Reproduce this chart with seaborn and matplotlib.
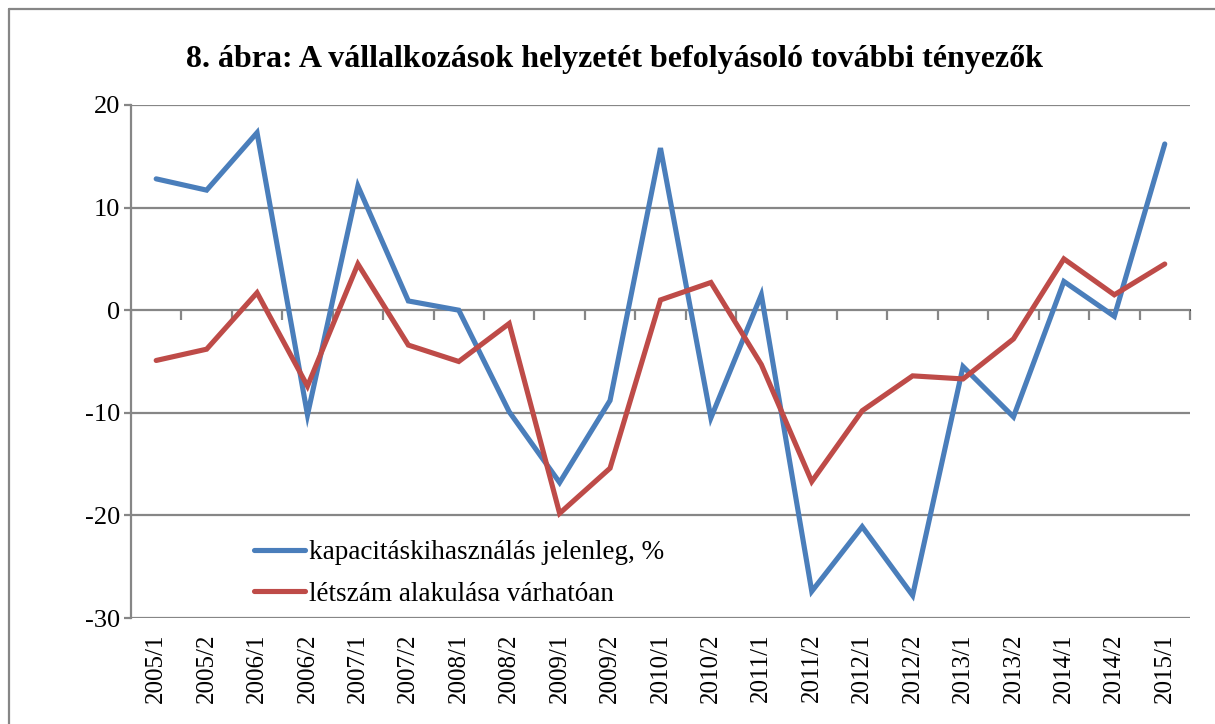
import numpy as np
import pandas as pd
import seaborn as sns
from matplotlib import pyplot as plt
from matplotlib.lines import Line2D

# half-year periods
periods = ['2005/1', '2005/2', '2006/1', '2006/2', '2007/1', '2007/2',
           '2008/1', '2008/2', '2009/1', '2009/2', '2010/1', '2010/2',
           '2011/1', '2011/2', '2012/1', '2012/2', '2013/1', '2013/2',
           '2014/1', '2014/2', '2015/1']

# capacity utilisation, current (%)
kapacitas = [12.8, 11.7, 17.3, -10.2, 12.1, 0.9, 0.0, -9.9, -16.8, -8.8,
             15.8, -10.5, 1.5, -27.4, -21.1, -27.8, -5.5, -10.4, 2.8, -0.6,
             16.2]

# expected headcount change
letszam = [-4.9, -3.8, 1.7, -7.4, 4.5, -3.4, -5.0, -1.3, -19.8, -15.4,
           1.0, 2.7, -5.3, -16.7, -9.8, -6.4, -6.7, -2.8, 5.0, 1.5, 4.5]

series_names = ['kapacitáskihasználás jelenleg, %', 'létszám alakulása várhatóan']
series_colors = ['#4A7EBB', '#BE4B48']

yticks = [-30, -20, -10, 0, 10, 20]

df = pd.DataFrame({
    'period': periods * 2,
    'value': kapacitas + letszam,
    'series': [series_names[0]] * len(periods) + [series_names[1]] * len(periods),
})

sns.set_theme(style='white')
plt.rcParams['font.family'] = ['Liberation Serif', 'DejaVu Serif']
plt.rcParams['text.color'] = 'black'
plt.rcParams['xtick.labelcolor'] = 'black'
plt.rcParams['ytick.labelcolor'] = 'black'

fig = plt.figure(figsize=(12.15, 7.24), dpi=100)
ax = fig.add_axes([0.1078, 0.1464, 0.8716, 0.7086])

grid_color = '#868686'

ax = sns.lineplot(data=df, x='period', y='value', hue='series',
                  palette=series_colors, linewidth=3.7, sort=False,
                  ax=ax, solid_capstyle='round', solid_joinstyle='miter')

ax.set_xlim(-0.5, len(periods) - 0.5)
ax.set_ylim(-30, 20)
ax.set_yticks(yticks)
ax.set_yticklabels([str(t) for t in yticks], fontsize=19)
ax.yaxis.grid(True, color=grid_color, linewidth=1.6)
ax.set_axisbelow(True)

for side in ['top', 'right', 'bottom']:
    ax.spines[side].set_visible(False)
ax.spines['left'].set_color(grid_color)
ax.spines['left'].set_linewidth(1.6)
ax.tick_params(axis='y', which='major', direction='out', length=5,
               width=1.6, color=grid_color, labelcolor='black', left=True, pad=3)

# category labels at the bottom, no tick marks
ax.set_xticks(range(len(periods)))
ax.set_xticklabels(periods, rotation=90, fontsize=18)
ax.tick_params(axis='x', length=0, pad=11, labelcolor='black')
ax.set_xlabel('')
ax.set_ylabel('')

# category axis crossing at zero, with ticks between categories
zero_pos = (0 - (-30)) / 50
sec = ax.secondary_xaxis(zero_pos)
sec.set_xticks(np.arange(len(periods) + 1) - 0.5)
sec.set_xticklabels([])
sec.tick_params(direction='in', length=7, width=1.6, color=grid_color)
sec.spines['bottom'].set_color(grid_color)
sec.spines['bottom'].set_linewidth(1.6)

ax.set_title('8. ábra: A vállalkozások helyzetét befolyásoló további tényezők',
             fontsize=23, fontweight='bold', pad=27, x=0.457, color='black')

leg = ax.legend(loc='center left', bbox_to_anchor=(0.103, 0.0868),
                frameon=False, fontsize=19.5, handlelength=1.9,
                handletextpad=0.15, labelspacing=0.6, borderpad=0,
                labelcolor='black')
for line in leg.get_lines():
    line.set_linewidth(3.7)

# outer chart border (top and left, the rest is cropped)
fig.add_artist(Line2D([9 / 1215, 1], [1 - 9 / 724, 1 - 9 / 724],
                      transform=fig.transFigure, color=grid_color, linewidth=1.6))
fig.add_artist(Line2D([9 / 1215, 9 / 1215], [0, 1 - 9 / 724],
                      transform=fig.transFigure, color=grid_color, linewidth=1.6))

fig.savefig('out.png', dpi=100)
